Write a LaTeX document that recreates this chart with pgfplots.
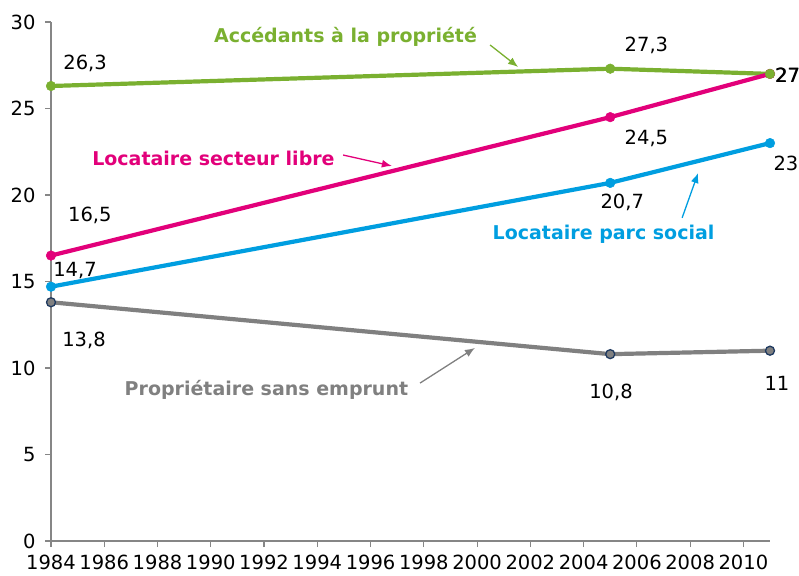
\documentclass[border=0pt]{standalone}
\usepackage{pgfplots}
\pgfplotsset{compat=1.18}
\usetikzlibrary{arrows.meta}
\usepackage{fontspec}
\setmainfont{DejaVu Sans}
\definecolor{cgreen}{RGB}{122,176,48}
\definecolor{cmagenta}{RGB}{226,0,122}
\definecolor{cblue}{RGB}{0,158,224}
\definecolor{cgray}{RGB}{128,128,128}
\definecolor{axisgray}{RGB}{134,134,134}
\definecolor{navy}{RGB}{31,58,96}
\tikzset{
  lbl/.style={font=\fontsize{19.5bp}{23bp}\selectfont, inner sep=0pt},
  slbl/.style={font=\fontsize{19bp}{23bp}\selectfont\bfseries, inner sep=0pt},
}
\begin{document}
\begin{tikzpicture}
\useasboundingbox (0,0) rectangle (799bp,576bp);
\begin{axis}[
  at={(51bp,35bp)}, anchor=south west, scale only axis,
  width=719bp, height=519bp,
  xmin=1984, xmax=2011, ymin=0, ymax=30,
  axis x line=bottom, axis y line=left,
  axis line style={-, draw=axisgray, line width=1.4bp},
  xtick={1984,1986,...,2010}, minor x tick num=1, ytick={0,5,...,30},
  tick align=outside, major tick length=6bp, minor tick length=6bp,
  tick style={draw=axisgray, line width=1.1bp},
  ticklabel style={font=\fontsize{19.5bp}{23bp}\selectfont},
  yticklabel style={xshift=-6bp},
  xticklabel style={yshift=-7bp, inner ysep=1bp},
  /pgf/number format/assume math mode=true,
  /pgf/number format/1000 sep={},
  clip=false,
]
\addplot[cgreen, line width=4.2bp, mark=*, mark size=4.8bp, mark options={fill=cgreen, draw=cgreen, line width=0.5bp}]
  coordinates {(1984,26.3) (2005,27.3) (2011,27)};
\addplot[cmagenta, line width=4.2bp, mark=*, mark size=4.8bp, mark options={fill=cmagenta, draw=cmagenta, line width=0.5bp}]
  coordinates {(1984,16.5) (2005,24.5) (2011,27)};
\addplot[cblue, line width=4.2bp, mark=*, mark size=4.8bp, mark options={fill=cblue, draw=cblue, line width=0.5bp}]
  coordinates {(1984,14.7) (2005,20.7) (2011,23)};
\addplot[cgray, line width=4.2bp, mark=*, mark size=4.5bp, mark options={fill=cgray, draw=navy, line width=1.3bp}]
  coordinates {(1984,13.8) (2005,10.8) (2011,11)};
\addplot[cgreen, only marks, mark=*, mark size=4.8bp, mark options={fill=cgreen, draw=cgreen}]
  coordinates {(2011,27)};

% value labels
\node[lbl] at (axis cs:1985.28,27.63) {26,3};
\node[lbl] at (axis cs:2006.36,28.67) {27,3};
\node[lbl, anchor=west] at (axis cs:2011.18,26.94) {27};
\node[lbl, anchor=west] at (axis cs:2011.20,26.94) {27};
\node[lbl] at (axis cs:2006.36,23.29) {24,5};
\node[lbl] at (axis cs:1985.46,18.84) {16,5};
\node[lbl] at (axis cs:1984.90,15.66) {14,7};
\node[lbl] at (axis cs:2005.45,19.60) {20,7};
\node[lbl] at (axis cs:2011.60,21.85) {23};
\node[lbl] at (axis cs:1985.24,11.62) {13,8};
\node[lbl] at (axis cs:2005.03,8.61) {10,8};
\node[lbl] at (axis cs:2011.26,9.13) {11};

% series labels
\node[slbl, text=cgreen] at (axis cs:1995.06,29.13) {Accédants à la propriété};
\draw[cgreen, line width=1.3bp, -{Latex[length=10bp,width=8bp]}] (axis cs:2000.49,28.67) -- (axis cs:2001.54,27.40);
\node[slbl, text=cmagenta] at (axis cs:1990.10,22.14) {Locataire secteur libre};
\draw[cmagenta, line width=1.3bp, -{Latex[length=10bp,width=8bp]}] (axis cs:1994.97,22.31) -- (axis cs:1996.80,21.68);
\node[slbl, text=cblue] at (axis cs:2004.75,17.75) {Locataire parc social};
\draw[cblue, line width=1.3bp, -{Latex[length=10bp,width=8bp]}] (axis cs:2007.70,18.68) -- (axis cs:2008.30,21.27);
\node[slbl, text=cgray] at (axis cs:1992.09,8.73) {Propriétaire sans emprunt};
\draw[cgray, line width=1.3bp, -{Latex[length=10bp,width=8bp]}] (axis cs:1997.86,9.13) -- (axis cs:1999.92,11.16);
\end{axis}
\end{tikzpicture}
\end{document}
